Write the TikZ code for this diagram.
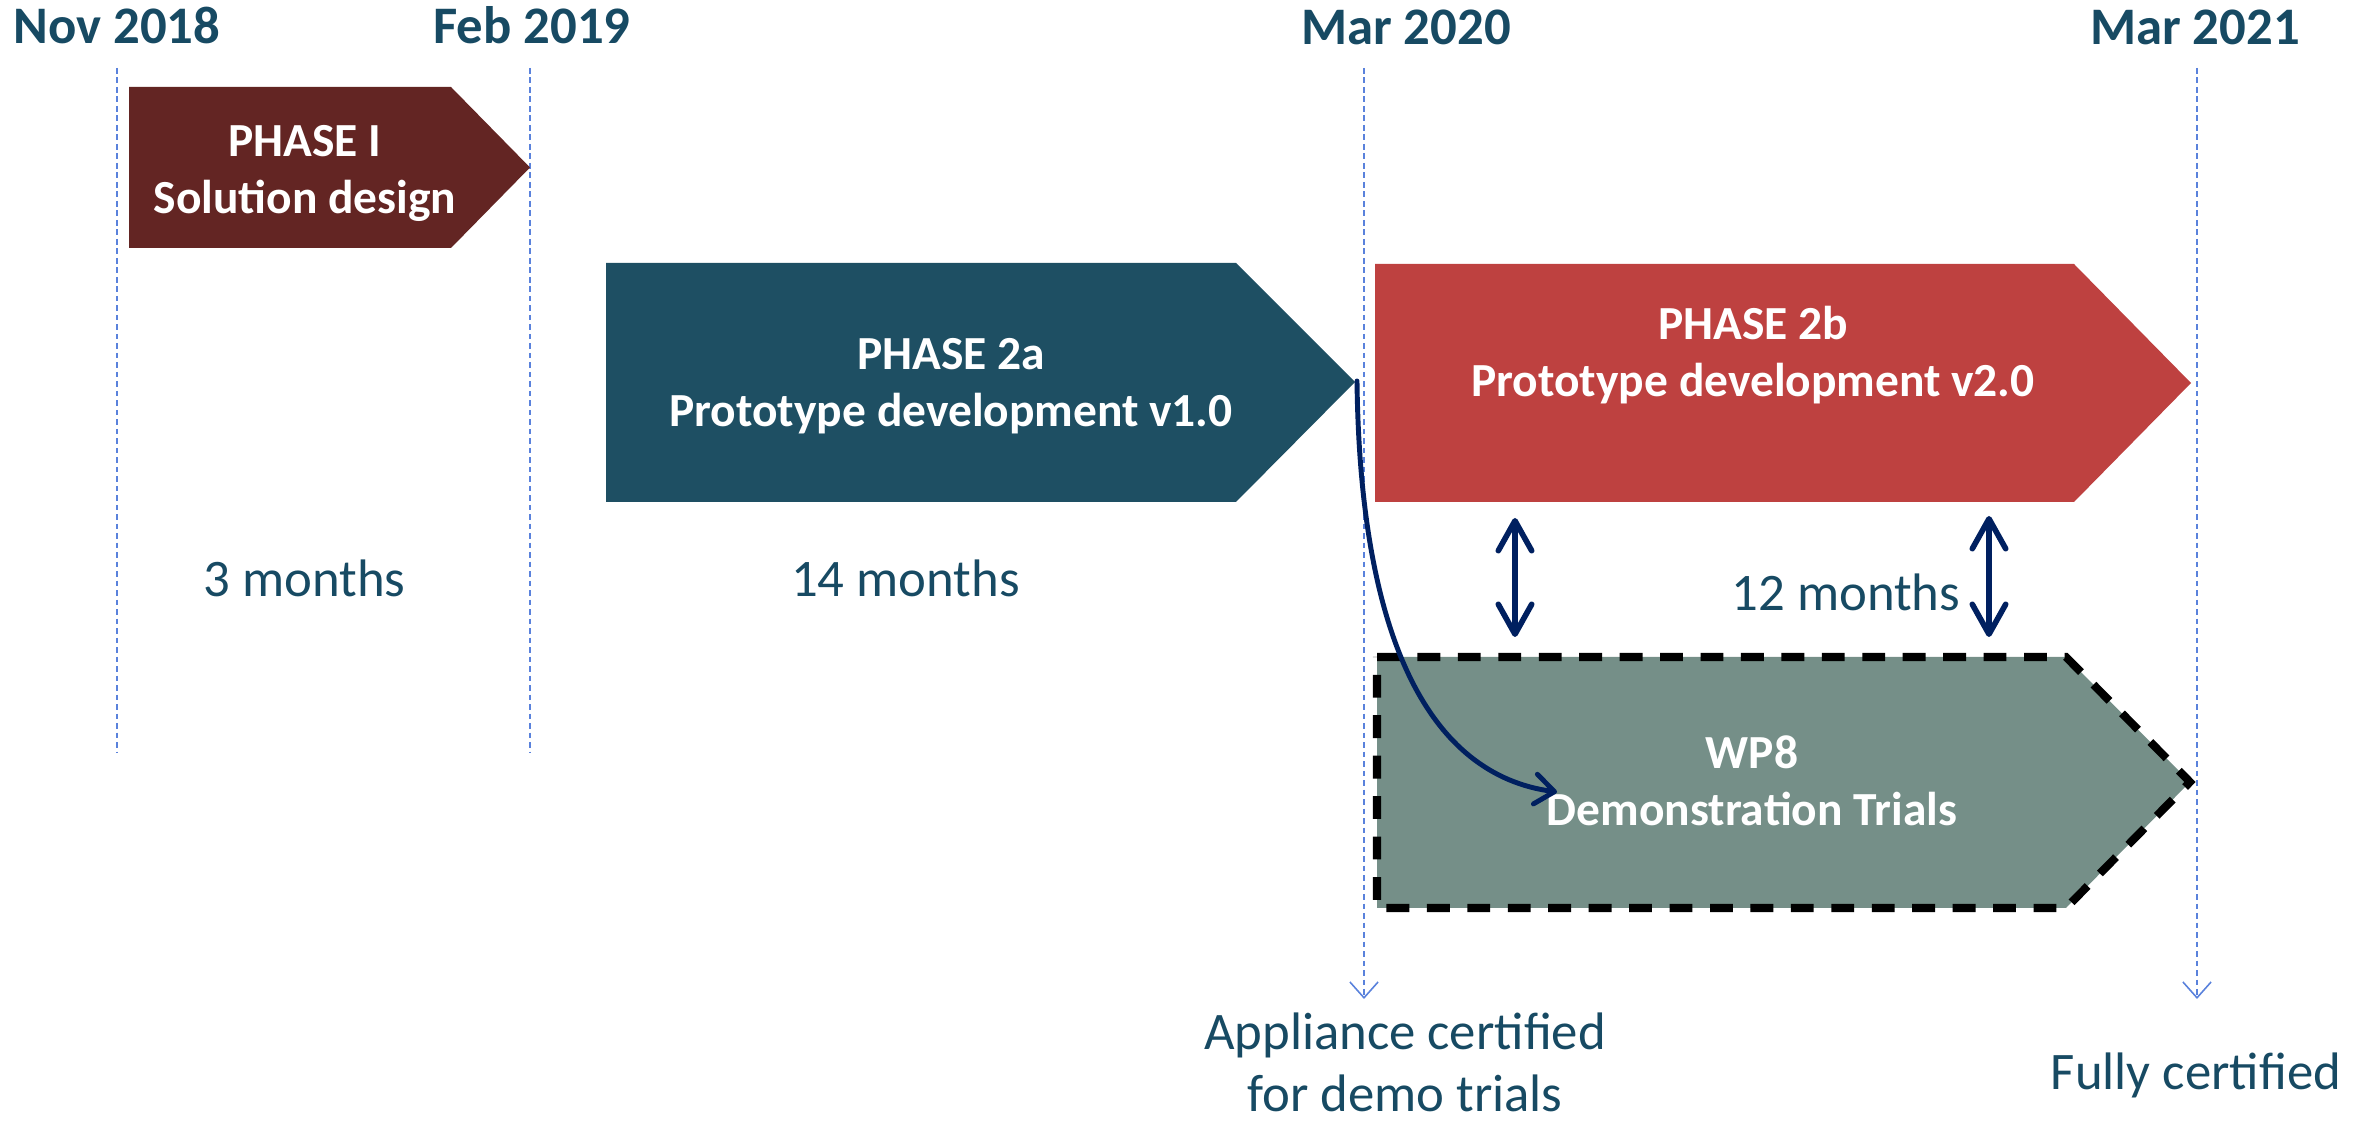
\documentclass[tikz,border=0pt]{standalone}
\usepackage{fontspec}
\setmainfont{Carlito}
\usetikzlibrary{arrows.meta}
\definecolor{labelblue}{RGB}{23,74,99}
\definecolor{phaseone}{RGB}{99,37,35}
\definecolor{phasetwoa}{RGB}{30,79,99}
\definecolor{phasetwob}{RGB}{190,65,64}
\definecolor{wpgray}{RGB}{117,143,136}
\definecolor{linknavy}{RGB}{0,32,96}
\definecolor{gridblue}{RGB}{90,130,220}
% two centred lines, baseline on the first line, no struts below the last
\newcommand{\twolines}[2]{\vtop{\halign{\hfil##\hfil\cr #1\cr #2\cr}}}

\begin{document}
\begin{tikzpicture}[x=0.01cm,y=-0.01cm,
  datelabel/.style={font=\fontsize{15}{18}\selectfont\bfseries, text=labelblue, anchor=base, inner sep=0pt},
  spanlabel/.style={font=\fontsize{15}{17.5}\selectfont, text=labelblue, anchor=base, inner sep=0pt},
  phasetext/.style={font=\fontsize{13.5}{16}\selectfont\bfseries, text=white, anchor=base, inner sep=0pt},
  gridline/.style={draw=gridblue, line width=0.45pt, dash pattern=on 1.6pt off 1.1pt},
  gridarrow/.style={gridline, -{Straight Barb[length=4.5pt,width=8pt]}},
  trialbox/.style={fill=wpgray, draw=black, line width=2.3pt, dash pattern=on 6.5pt off 5pt},
  linkarrow/.style={draw=linknavy, line width=1.6pt, line cap=round,
    {Straight Barb[round,length=8.5pt,width=9.5pt]}-{Straight Barb[round,length=8.5pt,width=9.5pt]}},
  flowarrow/.style={draw=linknavy, line width=1.4pt, line cap=round,
    -{Straight Barb[round,length=5.5pt,width=8.5pt]}}
]
\useasboundingbox (0,0) rectangle (2374,1128);

% milestone guide lines
\coordinate (novtop) at (117,68);  \coordinate (novbot) at (117,752);
\coordinate (febtop) at (530,68);  \coordinate (febbot) at (530,752);
\coordinate (m20top) at (1364,68); \coordinate (m20bot) at (1364,999);
\coordinate (m21top) at (2197,68); \coordinate (m21bot) at (2197,999);
\draw[gridline] (novtop) -- (novbot);
\draw[gridline] (febtop) -- (febbot);
\draw[gridarrow] (m20top) -- (m20bot);
\draw[gridarrow] (m21top) -- (m21bot);

% milestone dates
\node[datelabel] (nov18) at (117,44) {Nov 2018};
\node[datelabel] (feb19) at (532,44) {Feb 2019};
\node[datelabel] (mar20) at (1406,45) {Mar 2020};
\node[datelabel] (mar21) at (2195,45) {Mar 2021};

% phase arrows
\fill[phaseone] (129,87) -- (451,87) -- (530,167.5) -- (451,248) -- (129,248) -- cycle;
\fill[phasetwoa] (606,263) -- (1236,263) -- (1355,382) -- (1236,502) -- (606,502) -- cycle;
\fill[phasetwob] (1375,264) -- (2074,264) -- (2191,383) -- (2074,502) -- (1375,502) -- cycle;
\draw[trialbox] (1377,657) -- (2066,657) -- (2190,782) -- (2066,908) -- (1377,908) -- cycle;

\node[phasetext] (phaseI) at (305,157) {\twolines{PHASE I}{Solution design}};
\node[phasetext] (phaseIIa) at (951,370) {\twolines{PHASE 2a}{Prototype development v1.0}};
\node[phasetext] (phaseIIb) at (1753,340) {\twolines{PHASE 2b}{Prototype development v2.0}};
\node[phasetext] (wpeight) at (1752,769) {\twolines{WP8}{Demonstration Trials}};

% durations
\node[spanlabel] (dur1) at (304.5,597) {3 months};
\node[spanlabel] (dur2) at (905.5,597) {14 months};
\node[spanlabel] (dur3) at (1846,611) {12 months};

% certification notes
\node[spanlabel] (cert1) at (1405,1050) {\twolines{Appliance certified}{for demo trials}};
\node[spanlabel] (cert2) at (2196,1090) {Fully certified};

% links between phase 2b and the trials
\coordinate (linkAtop) at (1515,518); \coordinate (linkAbot) at (1515,637);
\coordinate (linkBtop) at (1989,516); \coordinate (linkBbot) at (1989,637);
\draw[linkarrow] (linkAtop) -- (linkAbot);
\draw[linkarrow] (linkBtop) -- (linkBbot);

% phase 2a feeds the demonstration trials
\coordinate (p2atip) at (1357,381);
\coordinate (wp8in) at (1557,792);
\draw[flowarrow] (p2atip) .. controls (1360,640) and (1430,775) .. (wp8in);
\end{tikzpicture}
\end{document}
